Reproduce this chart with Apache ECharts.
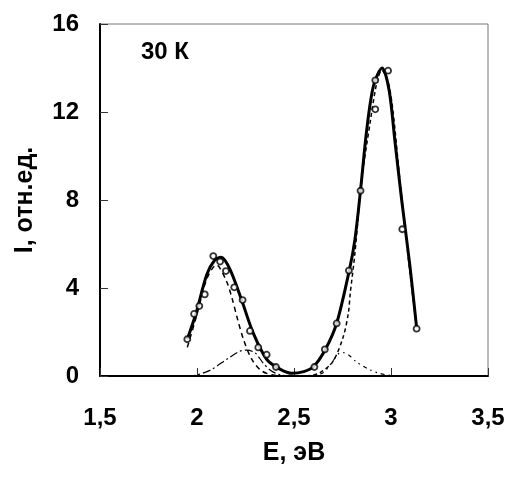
<!DOCTYPE html>
<html>
<head>
<meta charset="utf-8">
<script src="https://cdn.jsdelivr.net/npm/echarts@6/dist/echarts.min.js"></script>
<style>
	html, body { margin: 0; padding: 0; background: #fff; }
	#pl { width: 510px; height: 477px; }
</style>
</head>
<body>
<div id="pl"></div>
<script>
// experimental points (circles)
var expE = [1.950, 1.985, 2.012, 2.040, 2.084, 2.119, 2.149, 2.192, 2.235, 2.273, 2.316, 2.359, 2.407,
	2.605, 2.659, 2.720, 2.783, 2.843, 2.919, 2.919, 2.985, 3.058, 3.132];
var expI = [1.67, 2.82, 3.18, 3.71, 5.45, 5.20, 4.77, 4.03, 3.45, 2.05, 1.30, 0.97, 0.41,
	0.41, 1.21, 2.39, 4.79, 8.42, 12.12, 13.44, 13.88, 6.67, 2.15];

// sum curve (thick solid)
var fitE = [1.95, 1.995, 2.05, 2.09, 2.125, 2.17, 2.23, 2.29, 2.36, 2.43, 2.49, 2.55, 2.6, 2.66,
	2.72, 2.785, 2.814, 2.843, 2.875, 2.91, 2.954, 2.99, 3.02, 3.055, 3.098, 3.132];
var fitI = [1.67, 2.85, 4.6, 5.25, 5.4, 4.85, 3.45, 1.95, 0.75, 0.3, 0.12, 0.2, 0.42, 1.18,
	2.4, 4.8, 6.2, 8.45, 11.2, 13.2, 14.0, 13.0, 10.7, 8.0, 4.97, 2.2];

// band 1 (dashed)
var b1E = [1.95, 2.0, 2.05, 2.1, 2.15, 2.18, 2.21, 2.24, 2.28, 2.33, 2.4, 2.5, 3.132];
var b1I = [1.3, 2.8, 4.4, 5.05, 4.35, 3.55, 2.55, 1.65, 0.8, 0.25, 0.03, 0, 0];

// band 2 (dash-dot)
var b2E = [1.95, 2.0, 2.07, 2.16, 2.22, 2.256, 2.3, 2.34, 2.38, 2.43, 2.5, 3.132];
var b2I = [0, 0.05, 0.27, 0.8, 1.12, 1.18, 1.05, 0.6, 0.25, 0.05, 0, 0];

// band 3 (dash-dot-dot)
var b3E = [1.95, 2.55, 2.6, 2.65, 2.69, 2.728, 2.754, 2.79, 2.82, 2.88, 2.94, 3.0, 3.132];
var b3I = [0, 0, 0.03, 0.15, 0.55, 1.0, 1.06, 0.9, 0.65, 0.33, 0.12, 0.03, 0];

// band 4 (dashed)
var b4E = [1.95, 2.55, 2.6, 2.634, 2.7, 2.754, 2.78, 2.79, 2.814, 2.849, 2.892, 2.926, 2.952,
	2.995, 3.046, 3.098, 3.132];
var b4I = [0, 0, 0.05, 0.15, 0.65, 1.79, 2.85, 3.76, 5.58, 8.9, 11.5, 13.3, 13.9,
	13.0, 8.9, 4.67, 2.24];

var xTicks = [1.5, 2, 2.5, 3, 3.5];
var yTicks = [0, 4, 8, 12, 16];

function pairs(a, b) {
	var out = [];
	for (var i = 0; i < a.length; i++) out.push([a[i], b[i]]);
	return out;
}

function band(name, xs, ys, dash, w) {
	return {
		name: name,
		type: 'line',
		data: pairs(xs, ys),
		smooth: 0.3,
		showSymbol: false,
		z: 3,
		lineStyle: { color: '#000', width: w, type: dash }
	};
}

var font = 'Arial, "Liberation Sans", sans-serif';
var myChart = echarts.init(document.getElementById('pl'));
var option = {
	animation: false,
	backgroundColor: '#fff',
	grid: {
		left: 100, right: 22, top: 24, bottom: 101,
		show: true, borderColor: '#777', borderWidth: 1
	},
	graphic: [{
		type: 'text', left: 141, top: 40,
		style: { text: '30 К', font: 'bold 24px ' + font, fill: '#000' }
	}],
	xAxis: {
		type: 'value', min: 1.5, max: 3.5, interval: 0.5,
		name: 'E, эВ', nameLocation: 'middle', nameGap: 65,
		nameTextStyle: { fontFamily: font, fontWeight: 'bold', fontSize: 25, color: '#000' },
		axisLine: { onZero: false, lineStyle: { color: '#000', width: 2 } },
		axisTick: { inside: true, length: 8, lineStyle: { color: '#333', width: 1 } },
		splitLine: { show: false },
		axisLabel: {
			margin: 30, fontFamily: font, fontWeight: 'bold', fontSize: 24, color: '#000',
			formatter: function(v) { return xTicks.indexOf(v) < 0 ? '' : String(v).replace('.', ','); }
		}
	},
	yAxis: {
		type: 'value', min: 0, max: 16, interval: 4,
		name: 'I, отн.ед.', nameLocation: 'middle', nameGap: 62,
		nameTextStyle: { fontFamily: font, fontWeight: 'bold', fontSize: 25, color: '#000' },
		axisLine: { lineStyle: { color: '#000', width: 2 } },
		axisTick: { inside: true, length: 8, lineStyle: { color: '#333', width: 1 } },
		splitLine: { show: false },
		axisLabel: {
			margin: 21, fontFamily: font, fontWeight: 'bold', fontSize: 24, color: '#000',
			formatter: function(v) { return yTicks.indexOf(v) < 0 ? '' : v; }
		}
	},
	series: [
		band('b1', b1E, b1I, [5, 4], 1.5),
		band('b2', b2E, b2I, [8, 3, 2, 3], 1.2),
		band('b3', b3E, b3I, [4, 4, 1.5, 4, 1.5, 4], 1.2),
		band('b4', b4E, b4I, [4, 3], 1.5),
		{
			name: 'fit', type: 'line', data: pairs(fitE, fitI),
			smooth: 0.3, showSymbol: false, z: 4,
			lineStyle: { color: '#000', width: 3 }
		},
		{
			name: 'exp', type: 'scatter', data: pairs(expE, expI),
			symbol: 'circle', symbolSize: 6, z: 5,
			itemStyle: { color: '#fff', borderColor: '#000', borderWidth: 1.8 }
		}
	]
};
myChart.setOption(option);

window.addEventListener('resize', function() {
	myChart.resize();
});
</script>
</body>
</html>
